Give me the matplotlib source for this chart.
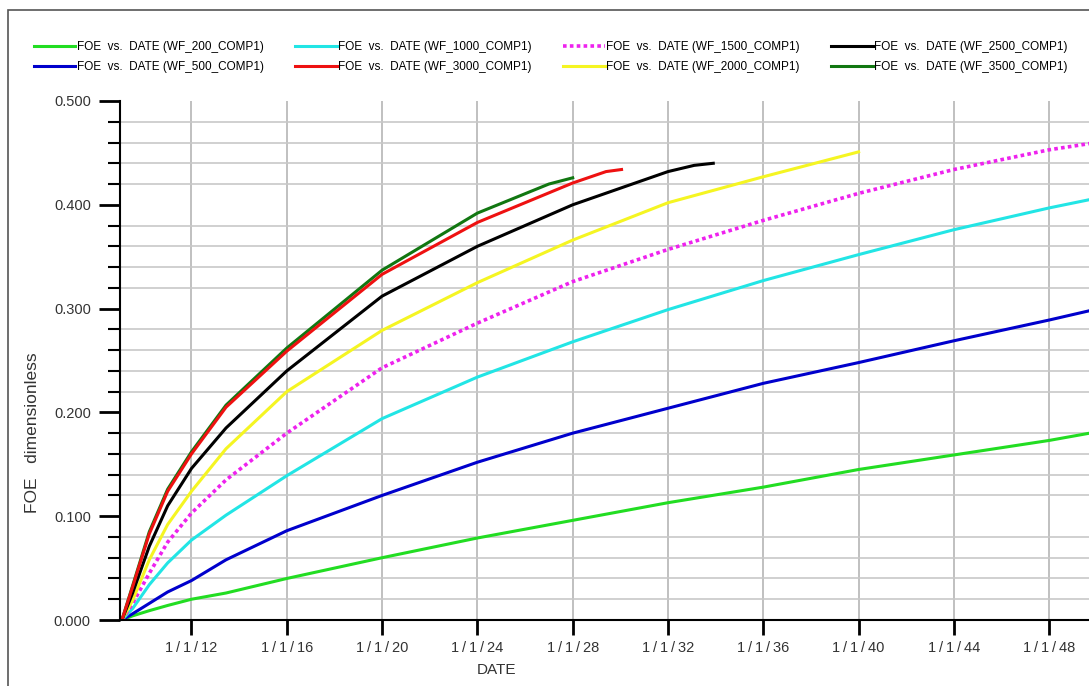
import matplotlib
matplotlib.use("Agg")
import matplotlib.pyplot as plt
from matplotlib.patches import Rectangle

plt.rcParams['font.family'] = ['Liberation Sans', 'DejaVu Sans']

# decimal years
yr_full = [2009.08, 2009.53, 2010.23, 2011, 2012, 2013.45, 2016, 2020, 2024,
           2028, 2032, 2036, 2040, 2044, 2048, 2049.7]
foe_200 = [0, 0.004, 0.009, 0.014, 0.020, 0.026, 0.040, 0.060, 0.079,
           0.096, 0.113, 0.128, 0.145, 0.159, 0.173, 0.180]
foe_500 = [0, 0.006, 0.016, 0.027, 0.038, 0.058, 0.086, 0.120, 0.152,
           0.180, 0.204, 0.228, 0.248, 0.269, 0.289, 0.298]
foe_1000 = [0, 0.011, 0.034, 0.055, 0.077, 0.101, 0.139, 0.194, 0.234,
            0.268, 0.299, 0.327, 0.352, 0.376, 0.397, 0.405]
foe_1500 = [0, 0.016, 0.045, 0.075, 0.103, 0.135, 0.180, 0.243, 0.286,
            0.326, 0.357, 0.385, 0.411, 0.434, 0.453, 0.459]

yr_2000 = [2009.08, 2009.53, 2010.23, 2011, 2012, 2013.45, 2016, 2020, 2024,
           2028, 2032, 2036, 2040]
foe_2000 = [0, 0.019, 0.058, 0.092, 0.124, 0.165, 0.220, 0.279, 0.325,
            0.366, 0.402, 0.427, 0.451]

yr_2500 = [2009.08, 2009.53, 2010.23, 2011, 2012, 2013.45, 2016, 2020, 2024,
           2028, 2032, 2033.1, 2033.9]
foe_2500 = [0, 0.026, 0.071, 0.110, 0.146, 0.185, 0.240, 0.312, 0.360,
            0.400, 0.432, 0.438, 0.440]

yr_3000 = [2009.08, 2009.53, 2010.23, 2011, 2012, 2013.45, 2016, 2020, 2024,
           2028, 2029.4, 2030.05]
foe_3000 = [0, 0.032, 0.083, 0.124, 0.160, 0.205, 0.259, 0.333, 0.383,
            0.421, 0.432, 0.434]

yr_3500 = [2009.08, 2009.53, 2010.23, 2011, 2012, 2013.45, 2016, 2020, 2024,
           2027, 2028.0]
foe_3500 = [0, 0.033, 0.085, 0.126, 0.162, 0.207, 0.262, 0.337, 0.392,
            0.420, 0.426]

tick_years = [2012, 2016, 2020, 2024, 2028, 2032, 2036, 2040, 2044, 2048]
tick_labels = ['1\u2009/\u20091\u2009/\u2009%02d' % (y % 100) for y in tick_years]
y_major = [0, 0.1, 0.2, 0.3, 0.4, 0.5]

fig = plt.figure(figsize=(10.89, 6.86), dpi=100)
ax = fig.add_axes([120 / 1089, 66 / 686, 969 / 1089, 519 / 686])

# outer frame
fig.patches.append(Rectangle((8 / 1089, -0.1), 1.2, 1.1 - 10 / 686,
                             transform=fig.transFigure, fill=False,
                             edgecolor='#555555', lw=1.2))

lab = 'FOE  vs.  DATE (WF_%s_COMP1)'
lines = {}
lines['200'], = ax.plot(yr_full, foe_200, color='#22dd22', lw=2.2, label=lab % 200)
lines['500'], = ax.plot(yr_full, foe_500, color='#0000cc', lw=2.2, label=lab % 500)
lines['1000'], = ax.plot(yr_full, foe_1000, color='#22e5e5', lw=2.2, label=lab % 1000)
lines['1500'], = ax.plot(yr_full, foe_1500, color='#ee22ee', lw=2.6,
                         linestyle=(0, (1, 0.9)), label=lab % 1500)
lines['2000'], = ax.plot(yr_2000, foe_2000, color='#f5f522', lw=2.2, label=lab % 2000)
lines['2500'], = ax.plot(yr_2500, foe_2500, color='black', lw=2.2, label=lab % 2500)
lines['3500'], = ax.plot(yr_3500, foe_3500, color='#117711', lw=2.2, label=lab % 3500)
lines['3000'], = ax.plot(yr_3000, foe_3000, color='#ee1111', lw=2.2, label=lab % 3000)

ax.set_xlim(2009.0, 2049.67)
ax.set_ylim(0, 0.5)
ax.set_xticks(tick_years)
ax.set_xticklabels(tick_labels)
ax.set_yticks(y_major)
ax.set_yticklabels(['%.3f' % v for v in y_major])
ax.set_yticks([i * 0.02 for i in range(26)], minor=True)

ax.grid(True, which='major', axis='x', color='#bbbbbb', lw=1.3)
ax.grid(True, which='minor', axis='y', color='#c8c8c8', lw=1.2)
ax.set_axisbelow(True)

for s in ['top', 'right']:
    ax.spines[s].set_visible(False)
for s in ['left', 'bottom']:
    ax.spines[s].set_linewidth(1.5)
    ax.spines[s].set_color('black')

ax.tick_params(axis='x', which='major', length=11, width=2, direction='out',
               labelsize=10.5, labelcolor='#333333', pad=4)
ax.tick_params(axis='y', which='major', length=15, width=2, direction='out',
               labelsize=10.5, labelcolor='#333333', pad=6)
ax.tick_params(axis='y', which='minor', length=9, width=1.5, direction='out')

fig.text(497 / 1089, 1 - 670 / 686, 'DATE', ha='center', va='center',
         fontsize=11, color='#333333')
fig.text(33 / 1089, 1 - 433 / 686, 'FOE   dimensionless', ha='center', va='center',
         rotation=90, fontsize=12.5, color='#333333')

order = ['200', '500', '1000', '3000', '1500', '2000', '2500', '3500']
fig.legend([lines[k] for k in order], [lines[k].get_label() for k in order],
           loc='upper left', bbox_to_anchor=(34 / 1089, 1 - 41 / 686), ncol=4,
           frameon=False, fontsize=8.5, handlelength=3.5, handletextpad=0.15,
           columnspacing=2.65, labelspacing=0.7, borderaxespad=0, borderpad=0)

plt.savefig('out.png', dpi=100)
